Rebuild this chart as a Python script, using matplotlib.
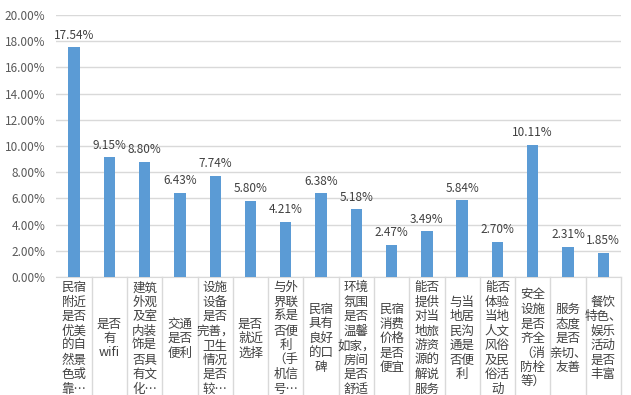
import numpy as np
import matplotlib.pyplot as plt
from matplotlib.lines import Line2D
import matplotlib.transforms as mtransforms

plt.rcParams['font.family'] = ['Noto Sans CJK SC', 'DejaVu Sans']

labels = [
    "民宿\n附近\n是否\n优美\n的自\n然景\n色或\n靠…",
    "是否\n有\nwifi",
    "建筑\n外观\n及室\n内装\n饰是\n否具\n有文\n化…",
    "交通\n是否\n便利",
    "设施\n设备\n是否\n完善，\n卫生\n情况\n是否\n较…",
    "是否\n就近\n选择",
    "与外\n界联\n系是\n否便\n利\n（手\n机信\n号…",
    "民宿\n具有\n良好\n的口\n碑",
    "环境\n氛围\n是否\n温馨\n如家，\n房间\n是否\n舒适",
    "民宿\n消费\n价格\n是否\n便宜",
    "能否\n提供\n对当\n地旅\n游资\n源的\n解说\n服务",
    "与当\n地居\n民沟\n通是\n否便\n利",
    "能否\n体验\n当地\n人文\n风俗\n及民\n俗活\n动",
    "安全\n设施\n是否\n齐全\n（消\n防栓\n等）",
    "服务\n态度\n是否\n亲切、\n友善",
    "餐饮\n特色、\n娱乐\n活动\n是否\n丰富",
]
values = [17.54, 9.15, 8.80, 6.43, 7.74, 5.80, 4.21, 6.38,
          5.18, 2.47, 3.49, 5.84, 2.70, 10.11, 2.31, 1.85]
yticks = [0, 2, 4, 6, 8, 10, 12, 14, 16, 18, 20]

text_color = '#595959'
grid_color = '#D9D9D9'

fig = plt.figure(figsize=(6.31, 3.95), dpi=100)
ax = fig.add_axes([0.0894, 0.299, 0.8946, 0.663])

x = np.arange(len(values))
bars = ax.bar(x, values, width=0.32, color='#5B9BD5', zorder=3)

for xi, v in zip(x, values):
    ax.annotate(f"{v:.2f}%", (xi, v), xytext=(0, 4), textcoords='offset points',
                ha='center', va='bottom', fontsize=8.5, color='#404040')

ax.set_xlim(-0.5, len(values) - 0.5)
ax.set_ylim(0, 20)
ax.set_yticks(yticks)
ax.set_yticklabels([f"{t:.2f}%" for t in yticks], fontsize=8.5, color=text_color)
ax.yaxis.grid(True, color=grid_color, linewidth=1, zorder=0)
ax.tick_params(axis='y', length=0, pad=8)
ax.set_xticks([])
for s in ['top', 'right', 'left']:
    ax.spines[s].set_visible(False)
ax.spines['bottom'].set_color(grid_color)

trans = mtransforms.blended_transform_factory(ax.transData, ax.transAxes)
for xi, lab in zip(x, labels):
    ax.text(xi, -0.235, lab, transform=trans, ha='center', va='center',
            fontsize=9, color='#404040', linespacing=1.15)

for b in np.arange(0.5, len(values), 1.0):
    ax.add_line(Line2D([b, b], [0, -0.45], transform=trans, color=grid_color,
                       linewidth=1, clip_on=False))

fig.savefig('out.png', dpi=100)
